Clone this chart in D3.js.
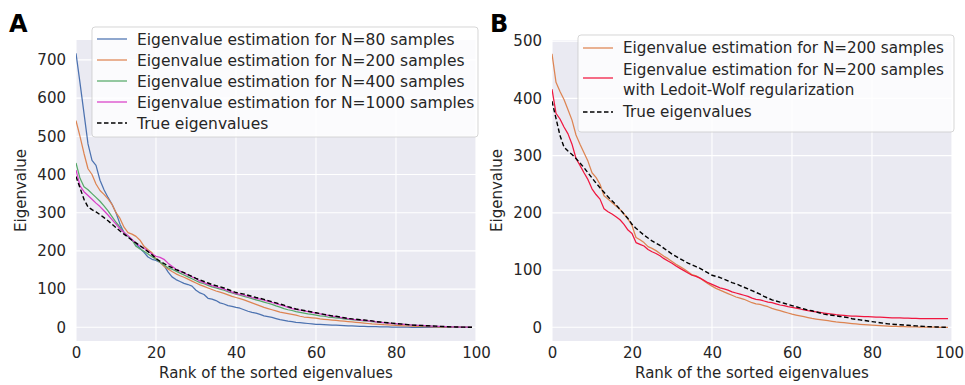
<!DOCTYPE html>
<html><head><meta charset="utf-8">
<script src="https://cdn.jsdelivr.net/npm/d3@7/dist/d3.min.js"></script>
<style>
body{margin:0;background:#fff;}
svg text{font-family:"DejaVu Sans",sans-serif;fill:#262626;}
</style>
</head><body>
<svg id="c" width="965" height="385"></svg>
<script>
// ---------- data ----------
const ranks = d3.range(100);
const xTicks = [0, 20, 40, 60, 80, 100];
const yTicksA = [0, 100, 200, 300, 400, 500, 600, 700];
const yTicksB = [0, 100, 200, 300, 400, 500];

const trueEigen = [
 395,365,335,315,308,302,295,287,279,270,
 261,252,244,236,228,221,214,206,198,190,
 180,173,167,161,156,151,147,143,138,133,
 128,124,120,116,112,109,106,103,99,95,
 91,89,87,84,81,78,76,73,70,67,
 64,61,58,54,51,48,46,44,42,40,
 38,36,34,32,30,29,27,25,23,22,
 21,20,19,18,17,15,14,13,12,11,
 10,9,8,7,6,5.5,5,4.5,4,3.5,
 3,2.5,2,1.6,1.2,0.9,0.6,0.4,0.2,0.1];

const estN80 = [
 717,640,560,480,437,424,385,360,340,322,
 300,270,248,238,229,218,207,196,184,178,
 175,170,162,145,132,125,120,115,112,108,
 97,90,86,76,74,70,64,61,57,55,
 52,50,46,42,39,37,34,30,28,26,
 23,20,18,16,15,13,12,11,10,9,
 8,7.5,7,6.5,6,5.5,5,4.5,4,3.5,
 3,2.7,2.4,2.1,1.8,1.5,1.3,1.1,0.9,0.7,
 0.5,0.4,0.3,0.2,0.1,0,0,0,0,0,
 0,0,0,0,0,0,0,0,0,0];

const estN200A = [
 541,500,455,415,400,375,358,348,336,322,
 300,285,262,248,244,238,228,212,203,195,
 180,170,160,153,146,140,135,131,126,121,
 116,111,107,103,99,95,92,89,85,81,
 78,75,72,68,64,60,56,52,49,46,
 43,40,38,36,34,32,29,27,26,25,
 24,22,21,20,19,18,17,16,15,14,
 13,12,11,10,9,8.5,8,7,6.5,6,
 5,4.5,4,3.5,3,2.6,2.2,1.9,1.6,1.3,
 1,0.8,0.6,0.5,0.4,0.3,0.2,0.1,0.05,0];

const estN400 = [
 430,390,368,360,350,340,330,318,305,290,
 275,262,248,238,229,212,205,199,192,185,
 178,171,163,156,152,147,142,137,132,127,
 122,117,114,110,106,103,100,97,93,90,
 87,84,81,78,75,72,69,66,63,60,
 56,53,49,46,44,41,39,37,35,34,
 32,30,29,27,26,25,24,22,21,20,
 19,18,17,16,15,14,13,12,11,10,
 9,8.3,7.5,6.8,6,5.3,4.7,4.1,3.5,3,
 2.5,2.1,1.7,1.4,1.1,0.8,0.5,0.3,0.2,0.1];

const estN1000 = [
 412,370,355,345,335,325,316,305,294,282,
 270,258,248,240,230,220,213,207,200,192,
 186,183,178,168,160,152,147,142,137,132,
 127,121,117,113,109,106,103,100,96,92,
 88,86,84,81,78,76,74,71,68,65,
 62,59,56,52,49,47,45,43,41,39,
 37,35,33,31,29,28,26,24,23,21,
 20,19,18,17,16,14,13,12,11,10,
 9.5,8.5,7.7,6.8,6,5.4,4.8,4.3,3.8,3.3,
 2.8,2.4,2,1.6,1.3,1,0.7,0.5,0.3,0.1];

const estN200B = [
 478,428,412,398,380,362,336,320,305,290,
 270,262,250,230,224,218,212,206,198,189,
 178,157,153,148,141,138,134,129,124,120,
 115,110,106,102,97,92,90,86,81,76,
 72,68,65,62,59,56,53,51,49,46,
 43,41,40,38,36,33,31,29,27,25,
 23,21.5,20,18.5,17,15.5,14.5,13.5,12.5,11.5,
 10.5,9.5,8.7,8,7.3,6.6,6,5.3,4.7,4.2,
 3.7,3.3,2.9,2.5,2.1,1.8,1.5,1.3,1.1,0.9,
 0.7,0.6,0.5,0.4,0.3,0.2,0.15,0.1,0.05,0];

const estLedoitWolf = [
 416,374,364,350,338,320,295,283,270,258,
 242,232,224,207,202,198,193,188,180,170,
 164,148,145,142,136,132,129,125,120,116,
 112,107,103,99,95,91,89,86,82,78,
 75,72,69,67,65,62,60,58,56,54,
 51,49,48,46,44,43,41,39,38,36,
 35,33.5,32,30.5,29,28,27,26,25,24,
 23,22,21.3,20.7,20.2,19.7,19.4,19.1,18.8,18.5,
 18.2,17.9,17.6,17.3,17,16.7,16.5,16.3,16.1,15.9,
 15.7,15.5,15.4,15.3,15.2,15.1,15,15,15,15];

const labelsA = ["Eigenvalue estimation for N=80 samples",
                 "Eigenvalue estimation for N=200 samples",
                 "Eigenvalue estimation for N=400 samples",
                 "Eigenvalue estimation for N=1000 samples",
                 "True eigenvalues"];
const labelsB = ["Eigenvalue estimation for N=200 samples",
                 ["Eigenvalue estimation for N=200 samples", "with Ledoit-Wolf regularization"],
                 "True eigenvalues"];

// ---------- drawing ----------
const svg = d3.select("#c");
const TOP = 40, BOTTOM = 341, W = 400;

function panel(o) {
  const g = svg.append("g");
  const x = d3.scaleLinear().domain([0, 100]).range([o.left, o.left + W]);
  const y = d3.scaleLinear().domain(o.ydom).range([BOTTOM, TOP]);
  const clipId = "clip" + o.letter;
  svg.append("clipPath").attr("id", clipId).append("rect")
    .attr("x", o.left).attr("y", TOP).attr("width", W).attr("height", BOTTOM - TOP);

  g.append("rect").attr("x", o.left).attr("y", TOP).attr("width", W)
    .attr("height", BOTTOM - TOP).attr("fill", "#eaeaf2");

  // grid
  g.append("g").selectAll("line").data(xTicks).join("line")
    .attr("x1", d => x(d)).attr("x2", d => x(d)).attr("y1", TOP).attr("y2", BOTTOM)
    .attr("stroke", "#fff").attr("stroke-width", 1.1);
  g.append("g").selectAll("line").data(o.yTicks).join("line")
    .attr("x1", o.left).attr("x2", o.left + W).attr("y1", d => y(d)).attr("y2", d => y(d))
    .attr("stroke", "#fff").attr("stroke-width", 1.1);

  // axes (labels only)
  const ax = g.append("g").attr("transform", `translate(0,${BOTTOM})`)
    .call(d3.axisBottom(x).tickValues(xTicks).tickSize(0).tickPadding(6).tickFormat(d3.format("d")));
  const ay = g.append("g").attr("transform", `translate(${o.left},0)`)
    .call(d3.axisLeft(y).tickValues(o.yTicks).tickSize(0).tickPadding(10).tickFormat(d3.format("d")));
  [ax, ay].forEach(a => {
    a.select(".domain").remove();
    a.selectAll("text").attr("font-size", 15).attr("font-family", "DejaVu Sans").attr("fill", "#262626");
  });
  // keep the last x tick label inside the page
  ax.selectAll(".tick text").each(function () {
    const bb = this.getBoundingClientRect();
    if (bb.right > 964) d3.select(this).attr("x", 964 - bb.right);
  });

  // lines
  const line = d3.line().x((d, i) => x(ranks[i])).y(d => y(d));
  const lg = g.append("g").attr("clip-path", `url(#${clipId})`);
  o.series.forEach(s => {
    lg.append("path").datum(s.values).attr("d", line).attr("fill", "none")
      .attr("stroke", s.color).attr("stroke-width", s.width || 1.25)
      .attr("stroke-dasharray", s.dash || null).attr("stroke-linejoin", "round");
  });

  // axis titles
  g.append("text").attr("x", o.left + W / 2).attr("y", 378).attr("text-anchor", "middle")
    .attr("font-size", 15).text("Rank of the sorted eigenvalues");
  g.append("text").attr("transform", `translate(${o.left - 50},${(TOP + BOTTOM) / 2}) rotate(-90)`)
    .attr("text-anchor", "middle").attr("font-size", 15).text("Eigenvalue");

  // panel letter
  g.append("text").attr("x", o.letterX).attr("y", 32).attr("font-size", 24)
    .attr("font-weight", "bold").attr("font-family", "Liberation Sans, Arial, sans-serif")
    .style("fill", "#000").text(o.letter);

  // legend
  const L = o.legend;
  const leg = g.append("g");
  leg.append("rect").attr("x", L.x).attr("y", L.y).attr("width", L.w).attr("height", L.h)
    .attr("rx", 3).attr("fill", "#fff").attr("fill-opacity", 0.8)
    .attr("stroke", "#ccc").attr("stroke-opacity", 0.8).attr("stroke-width", 1);
  let cy = L.y + L.first;
  o.series.forEach((s, i) => {
    const lab = o.labels[i];
    const lines = Array.isArray(lab) ? lab : [lab];
    const hy = cy + (lines.length - 1) * L.lh / 2 - (lines.length > 1 ? 2 : 0);
    leg.append("line").attr("x1", L.x + 5).attr("x2", L.x + 35).attr("y1", hy).attr("y2", hy)
      .attr("stroke", s.color).attr("stroke-width", s.width || 1.25)
      .attr("stroke-dasharray", s.dash || null);
    lines.forEach((t, k) => {
      leg.append("text").attr("x", L.x + 45).attr("y", cy + k * L.lh).attr("dy", "0.36em")
        .attr("font-size", L.fs).text(t);
    });
    cy += L.row + (lines.length - 1) * L.lh;
  });
}

panel({
  letter: "A", letterX: 9, left: 76, ydom: [-35.8, 752], yTicks: yTicksA,
  series: [
    {values: estN80, color: "#4c72b0"},
    {values: estN200A, color: "#dd8452"},
    {values: estN400, color: "#55a868"},
    {values: estN1000, color: "#d83fc8"},
    {values: trueEigen, color: "#000", dash: "4.5,2.5", width: 1.4}
  ],
  labels: labelsA,
  legend: {x: 92, y: 27, w: 386, h: 110, first: 12, row: 21, lh: 20, fs: 15.5}
});

panel({
  letter: "B", letterX: 490, left: 552, ydom: [-23.9, 502], yTicks: yTicksB,
  series: [
    {values: estN200B, color: "#dd8452"},
    {values: estLedoitWolf, color: "#f0163f"},
    {values: trueEigen, color: "#000", dash: "4.5,2.5", width: 1.4}
  ],
  labels: labelsB,
  legend: {x: 578, y: 35, w: 376, h: 97, first: 13, row: 22, lh: 20, fs: 15.2}
});
</script>
</body></html>
